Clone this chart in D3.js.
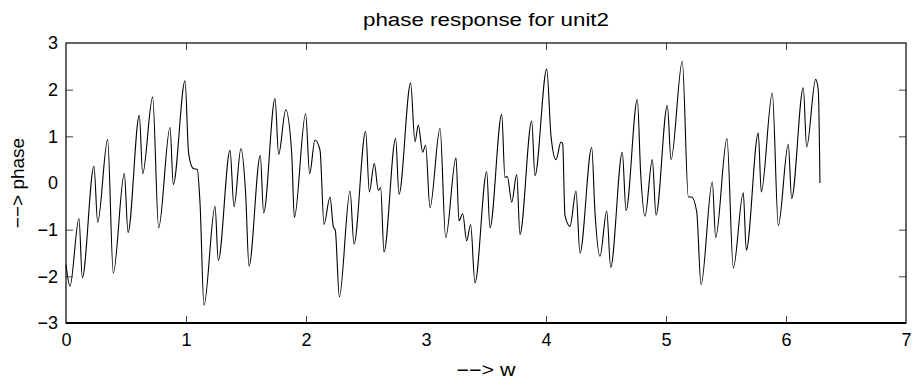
<!DOCTYPE html>
<html>
<head>
<meta charset="utf-8">
<script src="https://cdn.jsdelivr.net/npm/d3@7"></script>
<style>
  html, body { margin: 0; padding: 0; background: #fff; }
  svg { display: block; font-family: "Liberation Sans", Arial, Helvetica, sans-serif; }
</style>
</head>
<body>
<svg id="chart" width="915" height="385"></svg>
<script>
// ---- data ----
const titleText = "phase response for unit2";
const xLabel = "\u2212\u2212> w";
const yLabel = "\u2212\u2212> phase";
const xTicks = [0, 1, 2, 3, 4, 5, 6, 7];
const yTicks = [-3, -2, -1, 0, 1, 2, 3];

const wValues = [
  0.000, 0.033, 0.108, 0.136, 0.233, 0.264, 0.347, 0.394, 0.486, 0.517,
  0.611, 0.639, 0.722, 0.772, 0.867, 0.894, 0.992, 1.022, 1.061, 1.094,
  1.117, 1.150, 1.242, 1.269, 1.367, 1.400, 1.458, 1.497, 1.525, 1.619,
  1.647, 1.742, 1.772, 1.831, 1.881, 1.903, 1.997, 2.030, 2.075, 2.117,
  2.150, 2.200, 2.228, 2.244, 2.278, 2.367, 2.400, 2.497, 2.528, 2.569,
  2.603, 2.622, 2.650, 2.747, 2.775, 2.872, 2.908, 2.936, 2.972, 2.997,
  3.033, 3.117, 3.164, 3.250, 3.275, 3.306, 3.339, 3.372, 3.408, 3.506,
  3.533, 3.631, 3.658, 3.678, 3.714, 3.756, 3.783, 3.881, 3.908, 4.006,
  4.042, 4.083, 4.125, 4.139, 4.158, 4.200, 4.250, 4.283, 4.381, 4.408,
  4.450, 4.506, 4.539, 4.636, 4.667, 4.761, 4.789, 4.825, 4.886, 4.917,
  5.011, 5.042, 5.136, 5.186, 5.214, 5.256, 5.292, 5.386, 5.414, 5.508,
  5.561, 5.644, 5.669, 5.769, 5.794, 5.886, 5.936, 6.019, 6.047, 6.144,
  6.172, 6.247, 6.269, 6.283
];
const phaseValues = [
  -1.75, -2.21, -0.76, -2.03, 0.36, -0.84, 0.93, -1.93, 0.20, -1.06,
  1.45, 0.20, 1.84, -0.96, 1.19, -0.03, 2.19, 0.63, 0.31, 0.29,
  -0.44, -2.62, -0.50, -1.66, 0.70, -0.51, 0.74, -0.23, -1.78, 0.59,
  -0.64, 1.81, 0.61, 1.57, 0.63, -0.74, 1.49, 0.20, 0.92, 0.70,
  -0.89, -0.30, -0.94, -1.01, -2.44, -0.17, -1.31, 1.11, -0.19, 0.42,
  -0.16, -0.10, -1.48, 0.96, -0.24, 2.14, 0.88, 1.24, 0.66, 0.81,
  -0.53, 1.17, -1.17, 0.54, -0.81, -0.66, -1.24, -0.89, -2.14, 0.24,
  -0.96, 1.47, 0.12, 0.14, -0.41, 0.18, -1.10, 1.33, 0.16, 2.44,
  1.00, 0.50, 0.88, 0.84, -0.69, -0.93, -0.17, -1.50, 0.76, -0.62,
  -1.57, -0.60, -1.81, 0.66, -0.59, 1.79, 0.20, -0.71, 0.50, -0.69,
  1.66, 0.50, 2.61, -0.30, -0.30, -0.62, -2.18, 0.02, -1.17, 0.95,
  -1.82, -0.21, -1.44, 1.07, -0.19, 1.93, -0.91, 0.83, -0.33, 2.04,
  0.77, 2.22, 1.99, 0.00
];

// ---- layout ----
const W = 915, H = 385;
const margin = { top: 43, right: 9, bottom: 62, left: 66 };
const iw = W - margin.left - margin.right;
const ih = H - margin.top - margin.bottom;

const svg = d3.select("#chart");
const g = svg.append("g").attr("transform", `translate(${margin.left},${margin.top})`);

const x = d3.scaleLinear().domain([0, 7]).range([0, iw]);
const y = d3.scaleLinear().domain([-3, 3]).range([ih, 0]);

const data = wValues.map((w, i) => ({ w, p: phaseValues[i] }));

// line
const line = d3.line().x(d => x(d.w)).y(d => y(d.p)).curve(d3.curveMonotoneX);
g.append("path")
  .datum(data)
  .attr("fill", "none")
  .attr("stroke", "#000")
  .attr("stroke-width", 1.1)
  .attr("d", line);

// axes with inward ticks (MATLAB style)
const tickLen = 7;
const fontSize = 18;

const xAxisB = d3.axisBottom(x).tickValues(xTicks).tickSizeInner(-tickLen).tickSizeOuter(0).tickPadding(tickLen + 3).tickFormat(d3.format("d"));
const xAxisT = d3.axisTop(x).tickValues(xTicks).tickSizeInner(-tickLen).tickSizeOuter(0).tickFormat("");
const yAxisL = d3.axisLeft(y).tickValues(yTicks).tickSizeInner(-tickLen).tickSizeOuter(0).tickPadding(tickLen + 1).tickFormat(d3.format("d"));
const yAxisR = d3.axisRight(y).tickValues(yTicks).tickSizeInner(-tickLen).tickSizeOuter(0).tickFormat("");

function style(sel) {
  sel.select(".domain").remove();
  sel.selectAll(".tick line").attr("stroke", "#444").attr("stroke-width", 1);
  sel.selectAll(".tick text").attr("fill", "#000").attr("font-size", fontSize + "px")
    .attr("font-family", "'Liberation Sans', Arial, Helvetica, sans-serif");
}

g.append("g").attr("transform", `translate(0,${ih})`).call(xAxisB).call(style);
g.append("g").call(xAxisT).call(style);
g.append("g").call(yAxisL).call(style);
g.append("g").attr("transform", `translate(${iw},0)`).call(yAxisR).call(style);

// hide tick marks at box corners (they coincide with the frame)
g.selectAll(".tick line").filter(function(d) {
  return d === 0 || d === 7 || d === -3 || d === 3;
}).remove();

// frame
g.append("rect")
  .attr("x", 0).attr("y", 0).attr("width", iw).attr("height", ih)
  .attr("fill", "none").attr("stroke", "#000").attr("stroke-width", 1.2);
g.append("line")
  .attr("x1", 0).attr("x2", iw).attr("y1", ih).attr("y2", ih)
  .attr("stroke", "#000").attr("stroke-width", 2);

// title & labels
svg.append("text")
  .attr("x", margin.left + iw / 2).attr("y", 26)
  .attr("text-anchor", "middle").attr("font-size", "19px").attr("fill", "#000")
  .attr("textLength", 246).attr("lengthAdjust", "spacingAndGlyphs")
  .text(titleText);

svg.append("text")
  .attr("x", margin.left + iw / 2).attr("y", 376)
  .attr("text-anchor", "middle").attr("font-size", "18px").attr("fill", "#000")
  .attr("textLength", 59).attr("lengthAdjust", "spacingAndGlyphs")
  .text(xLabel);

svg.append("text")
  .attr("transform", `translate(24,${margin.top + ih / 2}) rotate(-90)`)
  .attr("text-anchor", "middle").attr("font-size", "19px").attr("fill", "#000")
  .text(yLabel);
</script>
</body>
</html>
